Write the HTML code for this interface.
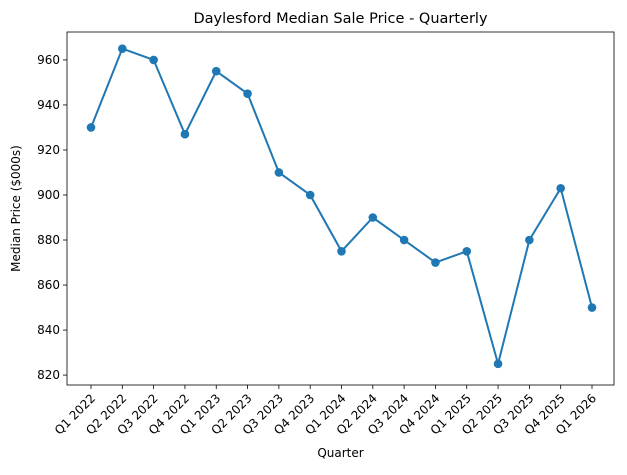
<!DOCTYPE html>
<html><head><meta charset="utf-8"><style>
body{margin:0;background:#fff;font-family:"Liberation Sans","DejaVu Sans",sans-serif;}
svg text{font-family:"DejaVu Sans","Liberation Sans",sans-serif;}
</style></head><body>
<svg id="chart" width="627" height="470"></svg>
<script>
const categories=["Q1 2022","Q2 2022","Q3 2022","Q4 2022","Q1 2023","Q2 2023","Q3 2023","Q4 2023","Q1 2024","Q2 2024","Q3 2024","Q4 2024","Q1 2025","Q2 2025","Q3 2025","Q4 2025","Q1 2026"];
const prices=[930,965,960,927,955,945,910,900,875,890,880,870,875,825,880,903,850];
const yTicks=[820,840,860,880,900,920,940,960];
const L=67,R=614,T=32,B=385;
const yMin=815.6,yMax=972.4;
const x0=91,x1=592;
function xs(i){return x0+(x1-x0)*i/(categories.length-1);}
function ys(v){return B-(v-yMin)/(yMax-yMin)*(B-T);}
const svg=document.getElementById('chart');
const NS='http://www.w3.org/2000/svg';
function mk(tag,attrs,parent){const e=document.createElementNS(NS,tag);for(const k in attrs)e.setAttribute(k,attrs[k]);(parent||svg).appendChild(e);return e;}
let t=mk('text',{x:(L+R)/2,y:23,'text-anchor':'middle','font-size':14.5,fill:'#000'});t.textContent='Daylesford Median Sale Price - Quarterly';


yTicks.forEach(v=>{const y=ys(v);
 const l=mk('line',{x1:L-4,x2:L,y1:y,y2:y,stroke:'#000','stroke-width':0.8});
 
 
 const tx=mk('text',{x:L-7,y:y+4,'text-anchor':'end','font-size':12,fill:'#000'});tx.textContent=v;
 
 
});
categories.forEach((c,i)=>{const x=xs(i);
 const l=mk('line',{x1:x,x2:x,y1:B,y2:B+4,stroke:'#000','stroke-width':0.8});
 
 
 const tx=mk('text',{x:x+5,y:B+14,'text-anchor':'end','font-size':12,fill:'#000',transform:`rotate(-45 ${x+5} ${B+14})`});tx.textContent=c;
 
 
});
let xt=mk('text',{x:(L+R)/2,y:457,'text-anchor':'middle','font-size':12,fill:'#000'});xt.textContent='Quarter';


let yt=mk('text',{x:20,y:(T+B)/2,'text-anchor':'middle','font-size':12,fill:'#000',transform:`rotate(-90 20 ${(T+B)/2})`});yt.textContent='Median Price ($000s)';


const pts=prices.map((v,i)=>xs(i)+','+ys(v)).join(' ');
const line=mk('polyline',{points:pts,fill:'none',stroke:'#1f77b4','stroke-width':2});


prices.forEach((v,i)=>{const c=mk('circle',{cx:xs(i),cy:ys(v),r:4.3,fill:'#1f77b4'});
 
 
});
const fr=mk('rect',{x:L,y:T,width:R-L,height:B-T,fill:'none',stroke:'#000','stroke-width':0.8});


</script>
</body></html>
